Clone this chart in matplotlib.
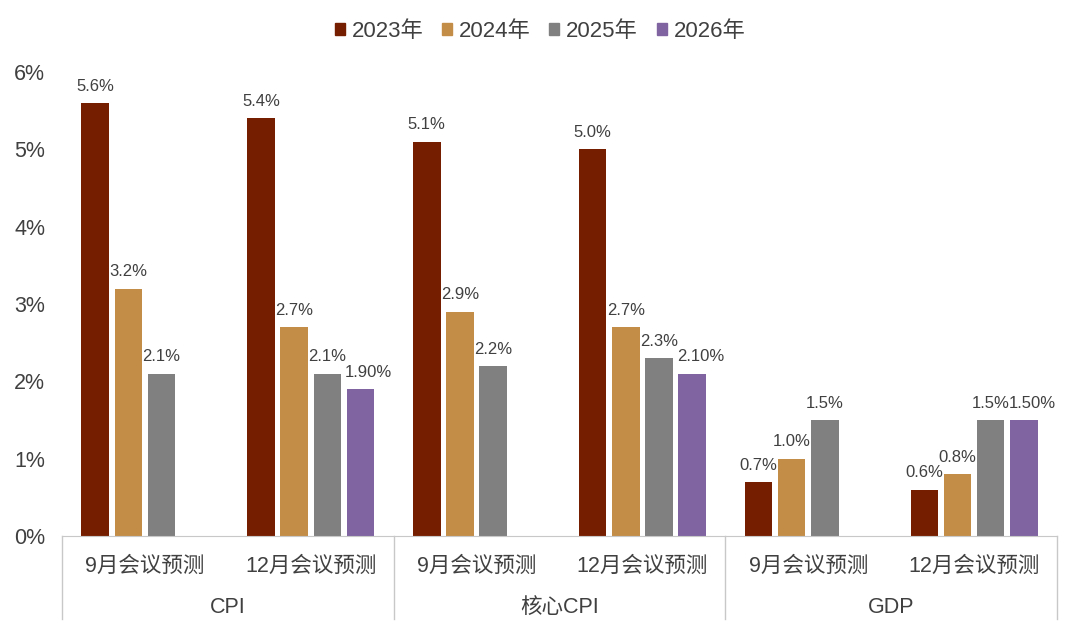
import numpy as np
import matplotlib.pyplot as plt
from matplotlib.patches import Patch

plt.rcParams['font.family'] = ['Liberation Sans', 'Noto Sans CJK SC', 'DejaVu Sans']

# data
groups = ['CPI', '核心CPI', 'GDP']
subcats = ['9月会议预测', '12月会议预测'] * 3
years = ['2023年', '2024年', '2025年', '2026年']
colors = ['#761E00', '#C38D47', '#808080', '#8064A2']

v2023 = [5.6, 5.4, 5.1, 5.0, 0.7, 0.6]
v2024 = [3.2, 2.7, 2.9, 2.7, 1.0, 0.8]
v2025 = [2.1, 2.1, 2.2, 2.3, 1.5, 1.5]
v2026 = [np.nan, 1.9, np.nan, 2.1, np.nan, 1.5]

lab2023 = ['5.6%', '5.4%', '5.1%', '5.0%', '0.7%', '0.6%']
lab2024 = ['3.2%', '2.7%', '2.9%', '2.7%', '1.0%', '0.8%']
lab2025 = ['2.1%', '2.1%', '2.2%', '2.3%', '1.5%', '1.5%']
lab2026 = ['', '1.90%', '', '2.10%', '', '1.50%']

series = [v2023, v2024, v2025, v2026]
labels = [lab2023, lab2024, lab2025, lab2026]

fig = plt.figure(figsize=(10.8, 6.32), dpi=100)
ax = fig.add_axes([0.0574, 0.152, 0.9213, 0.734])

x = np.arange(len(subcats))
w = 0.165
step = 0.2
txt = '#404040'
for i, (vals, labs) in enumerate(zip(series, labels)):
    pos = x + (i - 1.5) * step
    ax.bar(pos, vals, width=w, color=colors[i], label=years[i])
    for p, v, s in zip(pos, vals, labs):
        if not s:
            continue
        if i == 3:
            # last series labels sit a bit to the right
            ax.text(p - w / 2 - 0.01, v + 0.12, s, ha='left', va='bottom', fontsize=12, color=txt)
        else:
            ax.text(p, v + 0.12, s, ha='center', va='bottom', fontsize=12, color=txt)

ax.set_xlim(-0.5, len(subcats) - 0.5)
ax.set_ylim(0, 6)
ax.set_yticks(range(7))
ax.set_yticklabels([f'{t}%' for t in range(7)], fontsize=15.5, color=txt)
ax.tick_params(axis='y', length=0, pad=12)
ax.set_xticks([])
for sp in ['top', 'right', 'left']:
    ax.spines[sp].set_visible(False)
ax.spines['bottom'].set_color('#C8C8C8')

# two-level category axis
trans = ax.get_xaxis_transform()
for k, s in enumerate(subcats):
    ax.text(k, -0.065, s, transform=trans, ha='center', va='center', fontsize=15.5, color=txt)
for g, name in enumerate(groups):
    ax.text(2 * g + 0.5, -0.155, name, transform=trans, ha='center', va='center', fontsize=15.5, color=txt)
for b in [-0.5, 1.5, 3.5, 5.5]:
    ax.plot([b, b], [0, -0.18], transform=trans, color='#C8C8C8', lw=1, clip_on=False)

handles = [Patch(color=c) for c in colors]
fig.legend(handles, years, loc='center', bbox_to_anchor=(0.5, 0.95), ncol=4, frameon=False,
           fontsize=16, handlelength=0.45, handleheight=0.45, handletextpad=0.3, columnspacing=0.85,
           labelcolor=txt)

fig.savefig('out.png', dpi=100)
